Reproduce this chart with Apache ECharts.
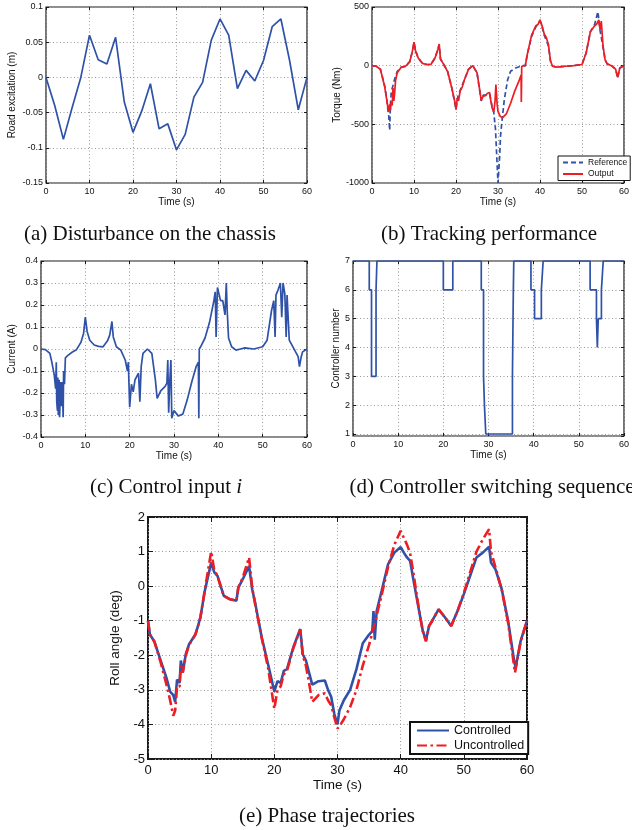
<!DOCTYPE html>
<html>
<head>
<meta charset="utf-8">
<script src="https://cdn.jsdelivr.net/npm/echarts@6/dist/echarts.min.js"></script>
<style>html,body{margin:0;padding:0;background:#fff}#c{width:632px;height:830px}</style>
</head>
<body>
<div id="c"></div>
<script>
// ---------------- DATA ----------------
const timeTicks = [0, 10, 20, 30, 40, 50, 60];

// (a) road excitation (m)
const roadExcitation = [[0,0],[2,-0.04],[4,-0.088],[6,-0.043],[8,0.0],[10,0.06],[12,0.025],[14,0.019],[16,0.057],[18,-0.035],[20,-0.078],[22,-0.048],[24,-0.009],[26,-0.073],[28,-0.066],[30,-0.103],[32,-0.081],[34,-0.028],[36,-0.007],[38,0.053],[40,0.083],[42,0.06],[44,-0.016],[46,0.01],[48,-0.005],[50,0.024],[52,0.072],[54,0.083],[56,0.024],[58,-0.046],[60,0]];

// (b) torque (Nm)
const referenceTorque = [[0,0],[1,-5],[2,-30],[3,-170],[3.5,-280],[3.8,-380],[4,-430],[4.2,-550],[4.4,-320],[4.6,-220],[5,-170],[5.5,-100],[6,-50],[7,-12],[8,-5],[9,35],[9.6,120],[10,195],[10.4,130],[11,65],[12,20],[13,10],[14,10],[15,65],[15.7,140],[16,180],[16.3,60],[17,15],[18,-50],[19,-190],[20,-370],[20.4,-270],[21,-210],[22,-120],[23,-30],[24,0],[25,-60],[26,-300],[26.5,-250],[27,-250],[28,-240],[28.5,-330],[29,-400],[29.4,-540],[29.7,-770],[30,-1000],[30.4,-770],[30.6,-600],[30.9,-490],[31.5,-290],[32.3,-120],[33,-48],[34.2,-20],[35.8,0],[36.5,0],[37,100],[38,250],[39,330],[40,380],[40.5,330],[41,260],[42,170],[42.5,40],[43,-5],[44,-12],[46,-5],[48,0],[50,10],[51,110],[52,290],[53,350],[53.8,460],[54.3,300],[55,160],[55.5,50],[56,15],[57,0],[58,-30],[58.5,-105],[59,-20],[60,0]];
const outputTorque = [[0,0],[1,-5],[2,-30],[3,-175],[3.5,-290],[3.8,-360],[4,-395],[4.2,-330],[4.4,-380],[4.6,-300],[4.8,-340],[5,-190],[5.2,-300],[5.4,-230],[5.6,-130],[6,-60],[7,-12],[8,-5],[9,35],[9.6,120],[10,200],[10.4,120],[11,65],[12,20],[13,10],[14,10],[15,65],[15.7,140],[16,185],[16.3,55],[17,15],[18,-50],[19,-190],[19.8,-320],[20,-375],[20.3,-280],[20.6,-300],[21,-215],[21.5,-180],[22,-120],[23,-30],[24,0],[25,-60],[25.7,-220],[26,-295],[26.5,-260],[27,-255],[27.5,-235],[28,-230],[28.3,-300],[28.6,-360],[29,-395],[29.3,-300],[29.5,-160],[29.8,-330],[30,-390],[30.5,-430],[31,-445],[32,-410],[33,-320],[34,-215],[35,-130],[35.5,-80],[35.55,-310],[35.65,-5],[36.5,0],[37,100],[38,260],[39,340],[39.5,350],[40,390],[40.5,340],[41,270],[41.5,240],[42,180],[42.5,40],[43,-5],[44,-12],[46,-5],[48,0],[50,10],[51,110],[52,290],[53,340],[53.5,355],[54,390],[54.3,310],[54.6,380],[55,170],[55.5,50],[56,15],[57,0],[58,-30],[58.5,-100],[59,-20],[60,0]];

// (c) current (A)
const currentInput = [[0,0],[1,-0.003],[2,-0.02],[2.5,-0.065],[3,-0.12],[3.3,-0.18],[3.45,-0.06],[3.55,-0.24],[3.7,-0.28],[3.8,-0.13],[3.9,-0.3],[4.1,-0.14],[4.2,-0.31],[4.4,-0.15],[4.6,-0.26],[4.8,-0.15],[5,-0.31],[5.1,-0.1],[5.3,-0.16],[5.5,-0.04],[6,-0.03],[7,-0.015],[8,-0.003],[9,0.03],[9.6,0.07],[10,0.145],[10.4,0.08],[11,0.04],[12,0.018],[13,0.012],[14,0.01],[15,0.037],[15.5,0.063],[16,0.125],[16.3,0.055],[17,0.01],[18,-0.005],[19,-0.05],[19.5,-0.1],[19.7,-0.06],[20,-0.265],[20.4,-0.16],[20.8,-0.195],[21.2,-0.14],[21.6,-0.125],[22,-0.11],[22.3,-0.24],[22.6,-0.08],[23,-0.02],[24,0],[25,-0.02],[25.8,-0.14],[26.2,-0.225],[27,-0.19],[28,-0.17],[28.4,-0.155],[28.6,-0.05],[28.8,-0.29],[29,-0.17],[29.3,-0.05],[29.5,-0.315],[30,-0.28],[31,-0.305],[32,-0.295],[33,-0.23],[34,-0.15],[35,-0.08],[35.5,-0.06],[35.6,-0.315],[35.7,0],[36,0.01],[37,0.05],[38,0.12],[39,0.22],[39.3,0.26],[39.5,0.055],[39.8,0.28],[40.2,0.285],[40.5,0.22],[41,0.22],[41.5,0.155],[41.8,0.3],[42,0.175],[42.3,0.05],[43,0.01],[44,-0.005],[45,0],[46,0.005],[48,0],[50,0.01],[51,0.04],[52,0.175],[52.5,0.22],[52.8,0.055],[53,0.245],[53.5,0.27],[54,0.3],[54.3,0.145],[54.6,0.3],[55,0.25],[55.3,0.055],[55.5,0.245],[56,0.04],[57,0.003],[58,-0.035],[58.3,-0.08],[58.7,-0.035],[59,-0.013],[60,0]];

// (d) controller number (switch times, new value)
const controllerSequence = [[0,7],[3.6,6],[4.1,3],[5.1,6],[5.3,7],[20.0,6],[22.1,7],[28.4,6],[28.9,3],[29.1,2],[29.4,1],[35.3,3],[35.5,6],[35.6,7],[39.4,6],[40.2,5],[41.7,6],[42.1,7],[52.5,6],[53.9,5],[54.1,4],[54.3,5],[55.0,6],[55.4,7],[60,7]];

// (e) roll angle (deg)
const rollControlled = [[0,-1.0],[0.3,-1.4],[1,-1.6],[2,-2.15],[3,-2.7],[3.5,-3.05],[4,-3.15],[4.3,-3.35],[4.6,-2.7],[5,-2.8],[5.2,-2.15],[5.5,-2.5],[6,-1.95],[6.5,-1.68],[7.5,-1.4],[8,-1.1],[8.3,-0.9],[9,-0.13],[10,0.68],[10.5,0.4],[11,0.3],[11.5,0.0],[12,-0.28],[13,-0.38],[14,-0.42],[14.3,-0.04],[15,0.2],[16,0.58],[16.5,-0.09],[17,-0.52],[18,-1.48],[19,-2.25],[20,-3.05],[20.5,-2.75],[21,-2.8],[21.5,-2.45],[22,-2.4],[23,-1.77],[24.1,-1.24],[24.5,-1.97],[25,-2.15],[25.5,-2.5],[26,-2.85],[27,-2.75],[28,-2.73],[28.5,-3.0],[29,-3.2],[29.5,-3.7],[30,-4.0],[30.3,-3.6],[31,-3.3],[32,-3.0],[33,-2.4],[34,-1.65],[35,-1.4],[35.5,-1.3],[35.7,-0.72],[35.9,-1.55],[36.2,-0.72],[37,-0.13],[38,0.63],[39,0.97],[40,1.13],[40.5,0.97],[41,0.83],[41.5,0.73],[42,0.2],[43,-0.8],[43.5,-1.29],[44,-1.57],[44.5,-1.15],[45,-1.0],[46,-0.67],[47,-0.9],[48,-1.15],[49,-0.72],[50,-0.23],[51,0.3],[52,0.83],[53,0.97],[54,1.14],[54.3,0.68],[55,0.49],[56,-0.09],[57,-1.0],[58,-2.2],[58.2,-2.35],[58.7,-1.87],[59,-1.58],[60,-1.0]];
const rollUncontrolled = [[0,-1.0],[0.3,-1.4],[1,-1.6],[2,-2.2],[3,-2.9],[3.5,-3.3],[4,-3.75],[4.3,-3.6],[4.6,-2.9],[5,-2.9],[5.2,-2.3],[5.5,-2.5],[6,-2.0],[6.5,-1.7],[7.5,-1.4],[8,-1.1],[8.3,-0.9],[9,-0.1],[10,1.0],[10.5,0.45],[11,0.3],[11.5,0.0],[12,-0.28],[13,-0.38],[14,-0.42],[14.3,-0.04],[15,0.25],[16,0.83],[16.5,-0.05],[17,-0.55],[18,-1.5],[19,-2.35],[20,-3.55],[20.5,-3.0],[21,-2.9],[21.5,-2.55],[22,-2.45],[23,-1.8],[24.1,-1.25],[24.5,-2.0],[25,-2.3],[25.5,-2.8],[26,-3.35],[27,-3.15],[28,-3.1],[28.5,-3.3],[29,-3.45],[29.5,-3.8],[30,-4.12],[30.5,-4.0],[31,-3.85],[32,-3.5],[33,-3.0],[34,-2.3],[35,-1.7],[36,-1.0],[37,-0.25],[38,0.55],[39,1.2],[40,1.6],[41,1.2],[41.5,0.95],[42,0.4],[43,-0.8],[43.5,-1.3],[44,-1.6],[44.5,-1.15],[45,-1.0],[46,-0.67],[47,-0.9],[48,-1.15],[49,-0.72],[50,-0.2],[51,0.4],[52,1.0],[53,1.35],[54,1.65],[54.3,1.0],[55,0.55],[56,-0.1],[57,-1.05],[58.1,-2.5],[58.3,-2.45],[58.7,-1.9],[59,-1.6],[60,-1.0]];

const captions = ['(a) Disturbance on the chassis', '(b) Tracking performance', '(c) Control input {it|i}', '(d) Controller switching sequence', '(e) Phase trajectories'];

// ---------------- LAYOUT ----------------
const SANS = 'Liberation Sans, Arial, Helvetica, sans-serif';
const SERIF = 'Liberation Serif, Times New Roman, serif';
const BLUE = '#2f52a8';
const RED = '#ee1d23';

const panels = [
  {grid:{left:46, top:7, width:261, height:176}, y:{min:-0.15, max:0.1, interval:0.05}, yName:'Road excitation (m)', yGap:29, xGap:14, fs:9, nfs:10, tick:3, bw:1.2},
  {grid:{left:372, top:7, width:259, height:176}, y:{min:-1000, max:500, interval:500}, yName:'Torque (Nm)', yGap:28, xGap:14, fs:9, nfs:10, tick:3, bw:1.2},
  {grid:{left:41, top:261, width:266, height:176}, y:{min:-0.4, max:0.4, interval:0.1}, yName:'Current (A)', yGap:24, xGap:12, fs:9, nfs:10, tick:3, bw:1.2},
  {grid:{left:353, top:261, width:279, height:175}, y:{min:0.93, max:7, splitNumber:6}, yName:'Controller number', yGap:10, xGap:12, fs:9, nfs:10, tick:3, bw:1.2, hideMin:true},
  {grid:{left:148, top:517, width:379, height:242}, y:{min:-5, max:2, interval:1}, yName:'Roll angle (deg)', yGap:18, xGap:19, fs:13, nfs:13.5, tick:5, bw:2}
];

const dotted = {type:[1,2.5], color:'#9a9a9a', width:1};
const plain = v => String(+v.toFixed(6));

const grid = [], xAxis = [], yAxis = [];
panels.forEach((p, i) => {
  grid.push(Object.assign({show:true, borderColor:'#1a1a1a', borderWidth:p.bw, backgroundColor:'rgba(0,0,0,0)'}, p.grid));
  const tickStyle = {inside:true, length:p.tick, lineStyle:{color:'#1a1a1a', width:1}};
  const noLine = {show:false, onZero:false};
  xAxis.push({type:'value', gridIndex:i, min:timeTicks[0], max:timeTicks[timeTicks.length-1], interval:timeTicks[1]-timeTicks[0],
    position:'bottom', axisLine:noLine, axisTick:tickStyle,
    axisLabel:{fontSize:p.fs, color:'#111', margin:p.fs > 10 ? 5 : 4, fontFamily:SANS, formatter:plain},
    splitLine:{show:true, lineStyle:dotted},
    name:'Time (s)', nameLocation:'middle', nameGap:p.xGap,
    nameTextStyle:{fontSize:p.nfs, color:'#111', fontFamily:SANS, verticalAlign:'top'}});
  xAxis.push({type:'value', gridIndex:i, min:timeTicks[0], max:timeTicks[timeTicks.length-1], interval:timeTicks[1]-timeTicks[0],
    position:'top', axisLine:noLine, axisTick:tickStyle, axisLabel:{show:false}, splitLine:{show:false}});
  const yBase = Object.assign({type:'value', gridIndex:i}, p.y);
  yAxis.push(Object.assign({}, yBase, {position:'left', axisLine:noLine, axisTick:tickStyle,
    axisLabel:{fontSize:p.fs, color:'#111', margin:3, fontFamily:SANS, showMinLabel: !p.hideMin, formatter:plain},
    splitLine:{show:true, lineStyle:dotted},
    name:p.yName, nameLocation:'middle', nameRotate:90, nameGap:p.yGap,
    nameTextStyle:{fontSize:p.nfs, color:'#111', fontFamily:SANS}}));
  yAxis.push(Object.assign({}, yBase, {position:'right', axisLine:noLine, axisTick:tickStyle, axisLabel:{show:false}, splitLine:{show:false}}));
});

function line(name, data, idx, color, width, type, extra) {
  return Object.assign({type:'line', name, data, xAxisIndex:idx*2, yAxisIndex:idx*2, symbol:'none', showSymbol:false,
    animation:false, clip:true, lineStyle:{color, width, type}, itemStyle:{color}}, extra || {});
}

const series = [
  line('Road', roadExcitation, 0, BLUE, 1.7, 'solid'),
  line('Reference', referenceTorque, 1, BLUE, 1.7, [5,3]),
  line('Output', outputTorque, 1, RED, 1.7, 'solid'),
  line('Current', currentInput, 2, BLUE, 1.7, 'solid'),
  line('Controller', controllerSequence, 3, BLUE, 1.7, 'solid', {step:'end'}),
  line('Controlled', rollControlled, 4, BLUE, 2.6, 'solid'),
  line('Uncontrolled', rollUncontrolled, 4, RED, 2.6, [10,3.5,2.5,3.5])
];

const hiddenSymbol = {opacity:0, borderWidth:0};
const legend = [
  {data:['Reference','Output'], orient:'vertical', left:558, top:156, itemWidth:20, itemHeight:8, itemGap:2.5,
   padding:[2,3,2,4], borderColor:'#111', borderWidth:1, backgroundColor:'#fff', borderRadius:0,
   itemStyle:hiddenSymbol, textStyle:{fontSize:8.5, color:'#111', fontFamily:SANS}},
  {data:['Controlled','Uncontrolled'], orient:'vertical', left:410, top:722, itemWidth:32, itemHeight:13, itemGap:2,
   padding:[2,4,2,6], borderColor:'#111', borderWidth:2, backgroundColor:'#fff', borderRadius:0,
   itemStyle:hiddenSymbol, textStyle:{fontSize:12.5, color:'#111', fontFamily:SANS}}
];

const capPos = [[150,234],[489,234],[166,487],[492,487],[327,816]];
const graphic = captions.map((t, i) => ({
  type:'text', x:capPos[i][0], y:capPos[i][1], silent:true,
  style:{text:t, font:'21px ' + SERIF, fill:'#111', textAlign:'center', textVerticalAlign:'middle',
    rich:{it:{fontStyle:'italic', fontSize:21, fontFamily:SERIF, fill:'#111'}}}
}));

const chart = echarts.init(document.getElementById('c'), null, {renderer:'canvas'});
chart.setOption({animation:false, backgroundColor:'#fff', grid, xAxis, yAxis, series, legend, graphic});
</script>
</body>
</html>
